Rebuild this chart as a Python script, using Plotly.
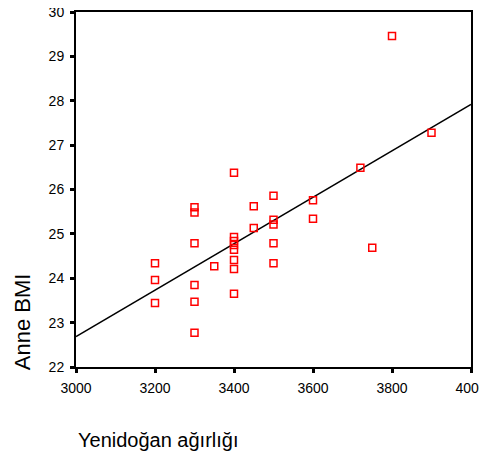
import numpy as np
import plotly.graph_objects as go

birth_weight = [3200, 3200, 3200,
                3300, 3300, 3300, 3300, 3300, 3300,
                3350,
                3400, 3400, 3400, 3400, 3400, 3400, 3400, 3400,
                3450, 3450,
                3500, 3500, 3500, 3500, 3500,
                3600, 3600,
                3720, 3750, 3800, 3900]
mother_bmi = [24.34, 23.96, 23.44,
              25.60, 25.48, 24.79, 23.85, 23.47, 22.77,
              24.27,
              26.38, 24.93, 24.84, 24.75, 24.64, 24.41, 24.21, 23.65,
              25.62, 25.13,
              25.86, 25.32, 25.21, 24.79, 24.34,
              25.76, 25.34,
              26.49, 24.69, 29.46, 27.28]

x_ticks = [3000, 3200, 3400, 3600, 3800, 4000]
y_ticks = [22, 23, 24, 25, 26, 27, 28, 29, 30]
x_range = [3000, 4000]
y_range = [22, 30]

slope, intercept = np.polyfit(birth_weight, mother_bmi, 1)
fit_x = np.array(x_range, dtype=float)
fit_y = slope * fit_x + intercept

fig = go.Figure()
fig.add_trace(go.Scatter(x=fit_x, y=fit_y, mode="lines",
                         line=dict(color="black", width=1.5),
                         showlegend=False, hoverinfo="skip"))
fig.add_trace(go.Scatter(x=birth_weight, y=mother_bmi, mode="markers",
                         marker=dict(symbol="square-open", size=7, color="red",
                                     line=dict(width=1.5, color="red")),
                         showlegend=False))

font = "Liberation Sans, Arial, sans-serif"
axis_common = dict(showgrid=False, zeroline=False, showline=True, linecolor="black",
                   linewidth=2, mirror=True, ticks="outside", ticklen=4, tickwidth=3,
                   tickcolor="black", automargin=False, ticklabeloverflow="allow",
                   tickfont=dict(family=font, size=14, color="black"))
fig.update_xaxes(range=x_range, tickvals=x_ticks, ticklabelstandoff=3, **axis_common)
fig.update_yaxes(range=y_range, tickvals=y_ticks, ticklabelstandoff=3, **axis_common)

fig.add_annotation(text="Anne BMI", xref="paper", yref="paper", x=-0.135, y=0.128,
                   xanchor="center", yanchor="middle", textangle=-90, showarrow=False,
                   font=dict(family=font, size=22, color="black"))
fig.add_annotation(text="Yenidoğan ağırlığı", xref="paper", yref="paper", x=0.0, y=-0.206,
                   xanchor="left", yanchor="middle", showarrow=False,
                   font=dict(family=font, size=20, color="black"))

fig.update_layout(width=479, height=456, margin=dict(l=68, r=16, t=4, b=97, autoexpand=False),
                  plot_bgcolor="white", paper_bgcolor="white",
                  font=dict(family=font))
fig.write_html("out.html")
